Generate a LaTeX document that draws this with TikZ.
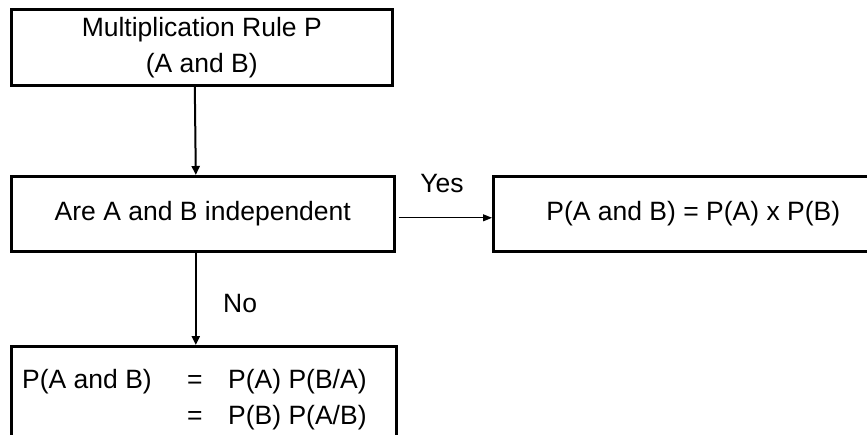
\documentclass[tikz,border=0pt]{standalone}
\usepackage{fontspec}
\setmainfont{Liberation Sans}
\usetikzlibrary{arrows.meta}
\begin{document}
\begin{tikzpicture}[x=1pt,y=-1pt,
  box/.style={draw,line width=2.6pt,inner sep=0pt,anchor=north west,align=center,font=\fontsize{26.5}{36}\selectfont},
  lbl/.style={font=\fontsize{26.5}{36}\selectfont,inner sep=0pt},
  vline/.style={line width=2pt,-{Triangle[length=9pt,width=8pt]}},
  hline/.style={line width=1pt,-{Triangle[length=9pt,width=7pt]}}]
\useasboundingbox (0,0) rectangle (867,434);
\clip (0,0) rectangle (867,434);
\node[box,minimum width=381pt,minimum height=76pt] (b1) at (10,8) {Multiplication Rule P\\(A and B)};
\node[box,minimum width=383pt,minimum height=75pt] (b2) at (10,175) {Are A and B independent};
\node[box,minimum width=400pt,minimum height=75pt] (b3) at (492,175) {P(A and B) = P(A) x P(B)};
\node[box,minimum width=385pt,minimum height=120pt] (b4) at (10,345) {};
\node[lbl,anchor=base west] (t1) at (22,388) {P(A and B)};
\node[lbl,anchor=base west] (e1) at (187,388) {=};
\node[lbl,anchor=base west] (r1) at (228,388) {P(A) P(B/A)};
\node[lbl,anchor=base west] (e2) at (187,424) {=};
\node[lbl,anchor=base west] (r2) at (228,424) {P(B) P(A/B)};
\node[lbl,anchor=base] (yes) at (442,192) {Yes};
\node[lbl,anchor=base west] (no) at (223,312) {No};
\draw[vline] ([xshift=-7pt]b1.south) -- ([xshift=-7pt]b2.north);
\draw[vline] ([xshift=-7pt]b2.south) -- ([xshift=-8pt]b4.north);
\draw[hline,shorten <=3pt] ([yshift=-4pt]b2.east) -- ([yshift=-4pt]b3.west);
\end{tikzpicture}
\end{document}
